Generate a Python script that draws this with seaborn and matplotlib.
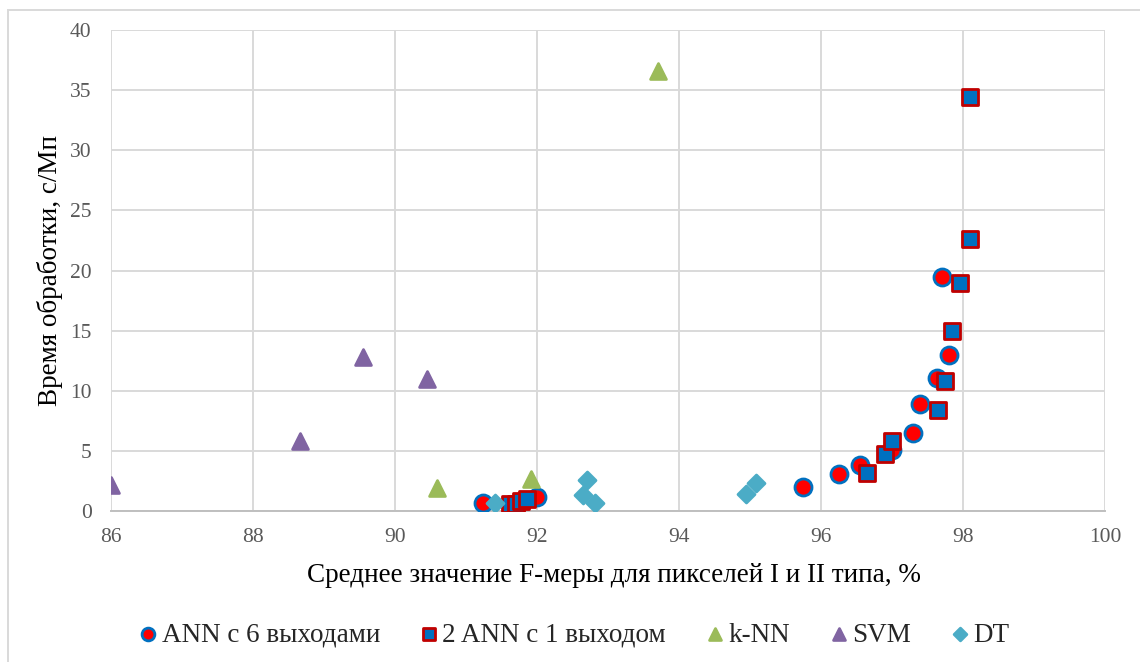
import matplotlib
matplotlib.use("Agg")
import matplotlib.pyplot as plt
import seaborn as sns
import pandas as pd
from matplotlib.patches import Rectangle
from matplotlib.font_manager import FontProperties

# ---------------- data ----------------
ann6_x = [91.24, 92.0, 95.75, 96.26, 96.55, 97.0, 97.30, 97.40, 97.64, 97.80, 97.70]
ann6_y = [0.67, 1.2, 2.0, 3.06, 3.8, 5.1, 6.5, 8.9, 11.1, 13.0, 19.5]

ann2_x = [91.62, 91.70, 91.78, 91.86, 96.65, 96.90, 97.0, 97.65, 97.75, 97.85, 97.96, 98.10, 98.10]
ann2_y = [0.55, 0.6, 0.8, 1.0, 3.2, 4.7, 5.8, 8.4, 10.8, 15.0, 19.0, 22.6, 34.4]

knn_x = [93.70, 90.59, 91.92]
knn_y = [36.6, 1.9, 2.7]

svm_x = [86.0, 88.66, 89.55, 90.45]
svm_y = [2.2, 5.8, 12.8, 11.0]

dt_x = [91.41, 92.71, 92.65, 92.81, 94.95, 95.09]
dt_y = [0.64, 2.55, 1.33, 0.67, 1.39, 2.33]

labels = ["ANN с 6 выходами", "2 ANN с 1 выходом", "k-NN", "SVM", "DT"]
x_ticks = [86, 88, 90, 92, 94, 96, 98, 100]
y_ticks = [0, 5, 10, 15, 20, 25, 30, 35, 40]
x_label = "Среднее значение F-меры для пикселей I и II типа, %"
y_label = "Время обработки, с/Мп"

# ---------------- style ----------------
sns.set_theme(style="white")
FAM = ["Liberation Serif", "DejaVu Serif"]
plt.rcParams["font.family"] = FAM
plt.rcParams["font.serif"] = FAM

W, H = 1140, 662
fig = plt.figure(figsize=(W / 100, H / 100), dpi=100)
ax = fig.add_axes([111 / W, (H - 511) / H, (1105 - 111) / W, (511 - 30) / H])

series = [
    (ann6_x, ann6_y, "o", "#FF0000", "#0070C0", 150),
    (ann2_x, ann2_y, "s", "#0070C0", "#C00000", 130),
    (knn_x, knn_y, "^", "#9BBB59", "#9BBB59", 130),
    (svm_x, svm_y, "^", "#8064A2", "#8064A2", 130),
    (dt_x, dt_y, "D", "#4BACC6", "#4BACC6", 75),
]

for i, (xs, ys, mk, fc, ec, s) in enumerate(series):
    df = pd.DataFrame({"x": xs, "y": ys})
    sns.scatterplot(data=df, x="x", y="y", ax=ax, marker=mk, s=s,
                    color=fc, edgecolor=ec, linewidth=2.0, label=labels[i],
                    zorder=3 + i, legend=True)

ax.set_xlim(86, 100)
ax.set_ylim(0, 40)
ax.set_xticks(x_ticks)
ax.set_yticks(y_ticks)
ax.set_xticklabels([str(v) for v in x_ticks], fontfamily=FAM, fontsize=15.5, color="#595959")
ax.set_yticklabels([str(v) for v in y_ticks], fontfamily=FAM, fontsize=15.5, color="#595959")
ax.grid(True, color="#D9D9D9", linewidth=1.4)
ax.set_axisbelow(True)
for side in ["top", "right", "left"]:
    ax.spines[side].set_visible(False)
ax.spines["bottom"].set_color("#BFBFBF")
ax.spines["bottom"].set_linewidth(1.4)
ax.tick_params(axis="both", length=0)
ax.tick_params(axis="x", pad=12)
ax.tick_params(axis="y", pad=14)

ax.set_xlabel("")
ax.set_ylabel("")
fig.text(0.5 * (277 + 950) / W, 1 - 575 / H, x_label, ha="center", va="center",
         fontsize=19.5, color="black", fontfamily=FAM)
fig.text(50 / W, 1 - 270 / H, y_label, ha="center", va="center", rotation=90,
         fontsize=19.5, color="black", fontfamily=FAM)

handles, labs = ax.get_legend_handles_labels()
ax.get_legend().remove()
fig.legend(handles, labs, loc="center", bbox_to_anchor=(572 / W, 1 - 635 / H),
           ncol=5, frameon=False, prop=FontProperties(family=FAM, size=19.5),
           markerscale=0.75, handletextpad=0.0, columnspacing=1.3,
           handlelength=1.0, borderaxespad=0)

# outer chart border (partially cropped)
fig.patches.append(Rectangle((8 / W, -0.1), 1.2, 1 - 10 / H + 0.1,
                             transform=fig.transFigure, fill=False,
                             edgecolor="#D9D9D9", linewidth=1.4))

fig.savefig("out.png", dpi=100)
